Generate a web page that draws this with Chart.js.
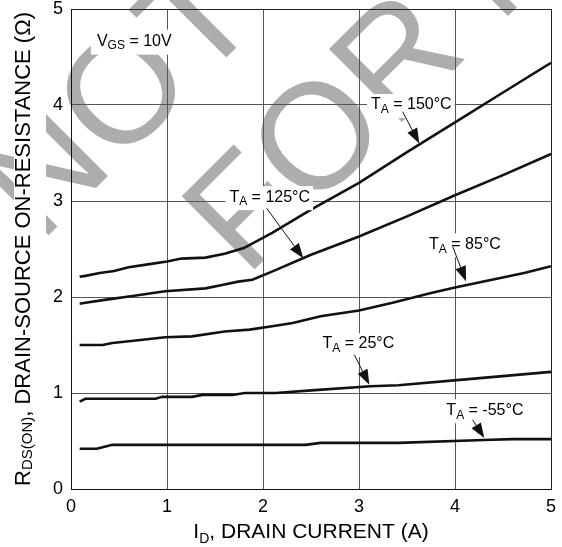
<!DOCTYPE html>
<html>
<head>
<meta charset="utf-8">
<script src="https://cdn.jsdelivr.net/npm/chart.js@4.4.1/dist/chart.umd.min.js"></script>
<style>
html, body { margin: 0; padding: 0; background: #fff; }
#wrap { width: 562px; height: 547px; }
</style>
</head>
<body>
<div id="wrap"><canvas id="rdsChart" width="562" height="547"></canvas></div>
<script>
// I_D (A) and R_DS(ON) (ohm)
const id150 = [0.09, 0.15, 0.3, 0.45, 0.6, 0.8, 1.0, 1.15, 1.4, 1.6, 1.8, 1.95, 2.1, 2.5, 3.0, 3.5, 4.0, 4.5, 5.0];
const r150  = [2.21, 2.22, 2.25, 2.27, 2.31, 2.34, 2.37, 2.40, 2.41, 2.45, 2.51, 2.59, 2.67, 2.91, 3.19, 3.51, 3.82, 4.13, 4.44];

const id125 = [0.09, 0.15, 0.35, 0.64, 0.98, 1.4, 1.6, 1.74, 1.89, 2.13, 2.5, 3.0, 3.5, 4.0, 4.5, 5.0];
const r125  = [1.93, 1.94, 1.97, 2.01, 2.06, 2.09, 2.13, 2.16, 2.18, 2.28, 2.44, 2.63, 2.84, 3.06, 3.27, 3.49];

const id85 = [0.09, 0.33, 0.43, 0.7, 0.98, 1.26, 1.6, 1.86, 2.13, 2.31, 2.6, 3.0, 3.35, 3.74, 4.0, 4.72, 5.0];
const r85  = [1.50, 1.50, 1.52, 1.55, 1.58, 1.59, 1.64, 1.66, 1.70, 1.73, 1.80, 1.86, 1.94, 2.04, 2.10, 2.25, 2.32];

const id25 = [0.09, 0.15, 0.88, 0.95, 1.26, 1.37, 1.68, 1.81, 2.13, 2.54, 3.12, 3.41, 4.2, 5.0];
const r25  = [0.91, 0.94, 0.94, 0.96, 0.96, 0.98, 0.98, 1.00, 1.00, 1.03, 1.07, 1.08, 1.15, 1.22];

const idM55 = [0.09, 0.27, 0.43, 2.44, 2.6, 3.41, 4.3, 4.6, 5.0];
const rM55  = [0.42, 0.42, 0.46, 0.46, 0.48, 0.48, 0.51, 0.52, 0.52];

const xTicks = [0, 1, 2, 3, 4, 5];
const yTicks = [0, 1, 2, 3, 4, 5];

const tempNames = ['150°C', '125°C', '85°C', '25°C', '-55°C'];

// label anchors (left edge, vertical middle) and arrow ends, in axis units
const labelPos  = [[3.125, 4.0], [1.65, 3.04], [3.73, 2.55], [2.62, 1.51], [3.91, 0.82]];
const arrowFrom = [[3.455, 3.93], [2.038, 2.924], [3.976, 2.524], [2.951, 1.399], [4.184, 0.721]];
const arrowTo   = [[3.628, 3.60], [2.420, 2.403], [4.115, 2.164], [3.108, 1.086], [4.305, 0.531]];
const vgsPos = [0.27, 4.66];

const FONT = '"Liberation Sans", Arial, sans-serif';
const AREA = { left: 71, right: 551, top: 9, bottom: 489 };

function pts(xs, ys) { return xs.map((x, i) => ({ x: x, y: ys[i] })); }

// draws runs of [text, size, dy] one after another
function drawRuns(ctx, runs, x, y, align) {
    let w = 0;
    runs.forEach(r => { ctx.font = r[1] + 'px ' + FONT; w += ctx.measureText(r[0]).width; });
    let cx = align === 'center' ? x - w / 2 : x;
    runs.forEach(r => {
        ctx.font = r[1] + 'px ' + FONT;
        ctx.fillText(r[0], cx, y + r[2]);
        cx += ctx.measureText(r[0]).width;
    });
    return w;
}

function arrow(ctx, x1, y1, x2, y2) {
    const a = Math.atan2(y2 - y1, x2 - x1);
    const len = 15, half = 5.5;
    const bx = x2 - len * Math.cos(a), by = y2 - len * Math.sin(a);
    ctx.beginPath();
    ctx.moveTo(x1, y1);
    ctx.lineTo(bx, by);
    ctx.lineWidth = 1;
    ctx.strokeStyle = '#111';
    ctx.stroke();
    ctx.beginPath();
    ctx.moveTo(x2, y2);
    ctx.lineTo(bx + half * Math.sin(a), by - half * Math.cos(a));
    ctx.lineTo(bx - half * Math.sin(a), by + half * Math.cos(a));
    ctx.closePath();
    ctx.fillStyle = '#111';
    ctx.fill();
}

// grey "NOT / FOR NEW" stamp behind the plot
const watermark = {
    id: 'watermark',
    beforeDraw(chart) {
        const ctx = chart.ctx;
        ctx.save();
        ctx.fillStyle = '#fff';
        ctx.fillRect(0, 0, chart.width, chart.height);
        ctx.fillStyle = '#adadad';
        ctx.font = '150px ' + FONT;
        ctx.textAlign = 'left';
        ctx.textBaseline = 'alphabetic';
        [['NOT', 40, 244], ['FOR NEW', 246, 278]].forEach(l => {
            ctx.save();
            ctx.translate(l[1], l[2]);
            ctx.rotate(-Math.PI / 4);
            ctx.fillText(l[0], 0, 0);
            ctx.restore();
        });
        // the axis title sits on a white strip
        ctx.fillStyle = '#fff';
        ctx.fillRect(14, 0, 32, chart.height);
        ctx.restore();
    }
};

const notes = {
    id: 'notes',
    afterDatasetsDraw(chart) {
        const ctx = chart.ctx;
        const xs = chart.scales.x, ys = chart.scales.y;
        ctx.save();
        ctx.textBaseline = 'middle';
        ctx.textAlign = 'left';

        // V_GS box
        let px = xs.getPixelForValue(vgsPos[0]), py = ys.getPixelForValue(vgsPos[1]);
        ctx.fillStyle = '#fff';
        ctx.fillRect(px - 6, py - 12, 88, 25);
        ctx.fillStyle = '#000';
        drawRuns(ctx, [['V', 16, 0], ['GS', 12, 4], [' = 10V', 16, 0]], px, py, 'left');

        tempNames.forEach((t, i) => {
            const lx = xs.getPixelForValue(labelPos[i][0]);
            const ly = ys.getPixelForValue(labelPos[i][1]);
            const r = [['T', 16, 0], ['A', 12, 5], [' = ' + t, 16, 0]];
            let w = 0;
            r.forEach(q => { ctx.font = q[1] + 'px ' + FONT; w += ctx.measureText(q[0]).width; });
            ctx.fillStyle = '#fff';
            ctx.fillRect(lx - 4, ly - 11, w + 7, 24);
            arrow(ctx, xs.getPixelForValue(arrowFrom[i][0]), ys.getPixelForValue(arrowFrom[i][1]),
                  xs.getPixelForValue(arrowTo[i][0]), ys.getPixelForValue(arrowTo[i][1]));
            ctx.fillStyle = '#000';
            drawRuns(ctx, r, lx, ly, 'left');
        });
        ctx.restore();
    },
    afterDraw(chart) {
        const ctx = chart.ctx;
        const area = chart.chartArea;
        ctx.save();
        ctx.fillStyle = '#000';
        ctx.textBaseline = 'alphabetic';
        ctx.textAlign = 'left';
        drawRuns(ctx, [['I', 21, 0], ['D', 14, 5], [', DRAIN CURRENT (A)', 21, 0]],
                 (area.left + area.right) / 2, 538, 'center');
        ctx.translate(30, (area.top + area.bottom) / 2);
        ctx.rotate(-Math.PI / 2);
        drawRuns(ctx, [['R', 22, 0], ['DS(ON)', 15, 2], [', DRAIN-SOURCE ON-RESISTANCE (\u03A9)', 22, 0]],
                 0, 0, 'center');
        ctx.restore();
    }
};

const lineStyle = { borderColor: '#111', borderWidth: 2.6, pointRadius: 0, showLine: true, tension: 0, fill: false };
const gridColor = c => c.tick && c.tick.value === 5 ? '#222' : '#555';

const chart = new Chart(document.getElementById('rdsChart'), {
    type: 'scatter',
    data: {
        datasets: [
            Object.assign({ label: tempNames[0], data: pts(id150, r150) }, lineStyle),
            Object.assign({ label: tempNames[1], data: pts(id125, r125) }, lineStyle),
            Object.assign({ label: tempNames[2], data: pts(id85, r85) }, lineStyle),
            Object.assign({ label: tempNames[3], data: pts(id25, r25) }, lineStyle),
            Object.assign({ label: tempNames[4], data: pts(idM55, rM55) }, lineStyle)
        ]
    },
    options: {
        responsive: false,
        animation: false,
        devicePixelRatio: 1,
        layout: { padding: { top: 9, right: 11, left: 0, bottom: 0 } },
        plugins: { legend: { display: false }, tooltip: { enabled: false } },
        scales: {
            x: {
                type: 'linear', min: 0, max: 5,
                afterFit(s) { s.height = 58; s.paddingLeft = 0; s.paddingRight = 0; },
                afterBuildTicks(s) { s.ticks = xTicks.map(v => ({ value: v })); },
                ticks: { color: '#000', padding: 7, font: { family: FONT, size: 18 } },
                grid: { color: gridColor, lineWidth: 1, drawTicks: false },
                border: { color: '#111', width: 1 }
            },
            y: {
                type: 'linear', min: 0, max: 5,
                afterFit(s) { s.width = 71; s.paddingTop = 0; s.paddingBottom = 0; },
                afterBuildTicks(s) { s.ticks = yTicks.map(v => ({ value: v })); },
                ticks: { color: '#000', padding: 8, font: { family: FONT, size: 18 } },
                grid: { color: gridColor, lineWidth: 1, drawTicks: false },
                border: { color: '#111', width: 1 }
            }
        }
    },
    plugins: [watermark, notes]
});

// nudge the layout padding so the plot frame lands where the original one is
const ca = chart.chartArea;
const pad = chart.options.layout.padding;
pad.top += AREA.top - ca.top;
pad.left += AREA.left - ca.left;
pad.right += ca.right - AREA.right;
pad.bottom += ca.bottom - AREA.bottom;
chart.update();
</script>
</body>
</html>
